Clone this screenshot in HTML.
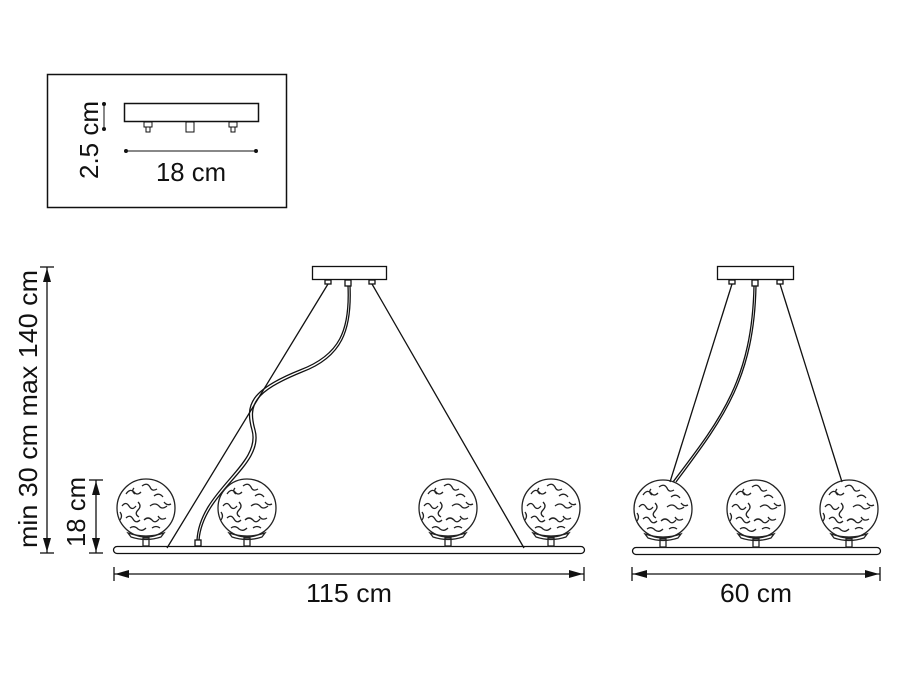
<!DOCTYPE html>
<html><head><meta charset="utf-8"><style>
html,body{margin:0;padding:0;background:#fff}
svg{display:block}
text{font-family:"Liberation Sans",sans-serif;fill:#111}
</style></head><body>
<svg width="900" height="675" viewBox="0 0 900 675" xmlns="http://www.w3.org/2000/svg">
<defs>
<symbol id="g" viewBox="-32 -32 64 72" overflow="visible">
<g fill="none" stroke="#222" stroke-width="1.3">
<circle cx="0" cy="0" r="29"/>
<path d="M-20,-14 q4,-6 8,-2 q3,4 7,0 M-4,-22 q5,-4 8,1 q2,5 7,2 M8,-12 q5,-4 9,1 M-24,-2 q4,-5 7,0 q3,5 7,0 M-8,-6 q4,4 0,8 q-4,4 1,7 M4,-2 q5,-4 9,0 q3,4 8,0 M-20,10 q4,-4 7,1 q3,5 7,1 M-2,12 q4,-4 8,0 q3,4 7,-1 M12,8 q3,5 8,2 M-16,20 q4,-3 8,1 q4,3 8,-1 M6,20 q4,-3 8,0 M-26,4 q3,4 0,8 M18,-6 q3,4 7,2 M-12,-20 q-3,3 1,6"/>
<path d="M-18,25 q18,6 36,0 l-3,4 q-15,5 -30,0 z"/>
<rect x="-3" y="30" width="6" height="8"/>
</g>
</symbol>
</defs>
<g fill="none" stroke="#111">
<rect x="47.5" y="74.5" width="239" height="133" stroke-width="1.5"/>
<rect x="124.5" y="103.5" width="134" height="18" stroke-width="1.5"/>
<rect x="144" y="122" width="8" height="5"/><rect x="146" y="127" width="4" height="5"/>
<rect x="186" y="122" width="8" height="10"/>
<rect x="229" y="122" width="8" height="5"/><rect x="231" y="127" width="4" height="5"/>
<line x1="104" y1="104" x2="104" y2="129"/>
<line x1="126" y1="151" x2="256" y2="151"/>
</g>
<g fill="#111"><circle cx="104" cy="104" r="2"/><circle cx="104" cy="129" r="2"/><circle cx="126" cy="151" r="2"/><circle cx="256" cy="151" r="2"/></g>
<text x="156" y="181" font-size="26" textLength="70" lengthAdjust="spacingAndGlyphs">18 cm</text>
<text transform="translate(98,140) rotate(-90)" font-size="26" text-anchor="middle">2.5 cm</text>

<g fill="none" stroke="#111" stroke-width="1.3">
<rect x="312.5" y="266.5" width="74" height="13"/>
<rect x="325" y="280" width="6" height="4"/><rect x="345" y="280" width="6" height="6"/><rect x="369" y="280" width="6" height="4"/>
<line x1="328" y1="284" x2="167" y2="548"/>
<line x1="372" y1="284" x2="524" y2="548"/>
<path d="M348,286 C350,330 340,355 300,370 C250,390 245,405 252,430 C262,465 200,490 197,540"/>
<path d="M350,286 C352,330 342,357 302,372 C253,392 248,405 255,430 C265,466 203,491 199,540"/>
<rect x="195" y="540" width="6" height="6"/>
<rect x="113.5" y="546.5" width="471" height="7" rx="3.5"/>
</g>
<use href="#g" x="114" y="476" width="64" height="72"/>
<use href="#g" x="215" y="476" width="64" height="72"/>
<use href="#g" x="416" y="476" width="64" height="72"/>
<use href="#g" x="519" y="476" width="64" height="72"/>

<g fill="none" stroke="#111" stroke-width="1.3">
<rect x="717.5" y="266.5" width="76" height="13"/>
<rect x="729" y="280" width="6" height="4"/><rect x="752" y="280" width="6" height="6"/><rect x="777" y="280" width="6" height="4"/>
<line x1="732" y1="284" x2="670" y2="482"/>
<line x1="780" y1="284" x2="842" y2="482"/>
<path d="M754,286 C752,380 720,420 673,482"/>
<path d="M756,286 C754,380 722,420 676,482"/>
<rect x="632.5" y="547.5" width="248" height="7" rx="3.5"/>
</g>
<use href="#g" x="631" y="477" width="64" height="72"/>
<use href="#g" x="724" y="477" width="64" height="72"/>
<use href="#g" x="817" y="477" width="64" height="72"/>

<g stroke="#111" stroke-width="1.3" fill="none">
<line x1="47" y1="267" x2="47" y2="553"/><line x1="40" y1="267" x2="54" y2="267"/><line x1="40" y1="553" x2="54" y2="553"/>
<line x1="96" y1="480" x2="96" y2="553"/><line x1="89" y1="480" x2="103" y2="480"/><line x1="89" y1="553" x2="103" y2="553"/>
<line x1="114" y1="574" x2="584" y2="574"/><line x1="114" y1="567" x2="114" y2="581"/><line x1="584" y1="567" x2="584" y2="581"/>
<line x1="632" y1="574" x2="880" y2="574"/><line x1="632" y1="567" x2="632" y2="581"/><line x1="880" y1="567" x2="880" y2="581"/>
</g>
<g fill="#111">
<path d="M47,268 l-4,14 h8z"/><path d="M47,552 l-4,-14 h8z"/>
<path d="M96,481 l-4,14 h8z"/><path d="M96,552 l-4,-14 h8z"/>
<path d="M115,574 l14,-4 v8z"/><path d="M583,574 l-14,-4 v8z"/>
<path d="M633,574 l14,-4 v8z"/><path d="M879,574 l-14,-4 v8z"/>
</g>
<text transform="translate(37,548) rotate(-90)" font-size="26" textLength="278" lengthAdjust="spacingAndGlyphs">min 30 cm max 140 cm</text>
<text transform="translate(85,547) rotate(-90)" font-size="26" textLength="70" lengthAdjust="spacingAndGlyphs">18 cm</text>
<text x="306" y="602" font-size="26" textLength="86" lengthAdjust="spacingAndGlyphs">115 cm</text>
<text x="720" y="602" font-size="26" textLength="72" lengthAdjust="spacingAndGlyphs">60 cm</text>
</svg>
</body></html>
